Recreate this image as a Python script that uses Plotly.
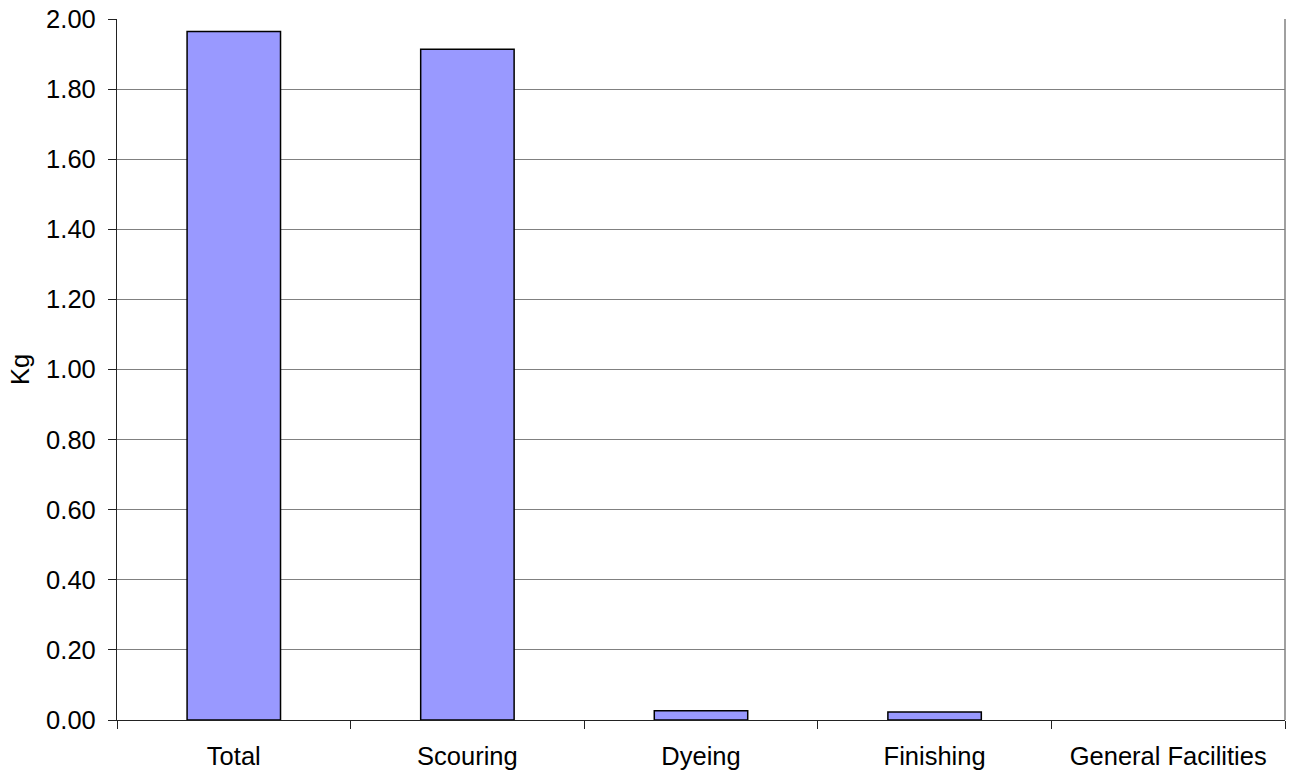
import plotly.graph_objects as go

# Process stages and the mass (kg) attributed to each
categories = ["Total", "Scouring", "Dyeing", "Finishing", "General Facilities"]
kg_values = [1.964, 1.914, 0.0265, 0.0228, 0.0]

y_ticks = [0.0, 0.2, 0.4, 0.6, 0.8, 1.0, 1.2, 1.4, 1.6, 1.8, 2.0]

font_family = "Liberation Sans, Arial, sans-serif"
font_size = 25.5

# no outline for empty bars, so a zero value leaves no mark on the axis
outline_widths = [1.5 if v > 0 else 0 for v in kg_values]

fig = go.Figure(
    go.Bar(
        x=categories,
        y=kg_values,
        width=0.4,
        marker=dict(color="#9999FF", line=dict(color="#000000", width=outline_widths)),
        hoverinfo="x+y",
    )
)

fig.update_layout(
    width=1291,
    height=774,
    margin=dict(l=117, r=6, t=19, b=54),
    paper_bgcolor="white",
    plot_bgcolor="white",
    font=dict(family=font_family, size=font_size, color="#000000"),
    showlegend=False,
    xaxis=dict(
        type="category",
        range=[-0.5, 4.5],
        automargin=False,
        showgrid=False,
        showline=True,
        linecolor="#222222",
        linewidth=1.3,
        ticks="outside",
        tickson="boundaries",
        ticklen=8,
        tickcolor="#222222",
        tickwidth=1,
        ticklabelstandoff=13,
        tickfont=dict(size=font_size),
    ),
    yaxis=dict(
        range=[0, 2.0],
        automargin=False,
        tickvals=y_ticks,
        tickformat=".2f",
        showgrid=True,
        gridcolor="#808080",
        gridwidth=1,
        showline=True,
        linecolor="#222222",
        linewidth=1.3,
        ticks="outside",
        ticklen=8,
        tickcolor="#222222",
        tickwidth=1,
        ticklabelstandoff=7,
        zeroline=False,
        tickfont=dict(size=font_size),
        title=dict(text="Kg", font=dict(size=font_size), standoff=9),
    ),
    shapes=[
        # plot-area frame on the right-hand side
        dict(type="line", xref="paper", yref="paper", x0=1, x1=1, y0=0, y1=1,
             line=dict(color="#808080", width=1.5)),
    ],
)

fig.write_html("out.html")
